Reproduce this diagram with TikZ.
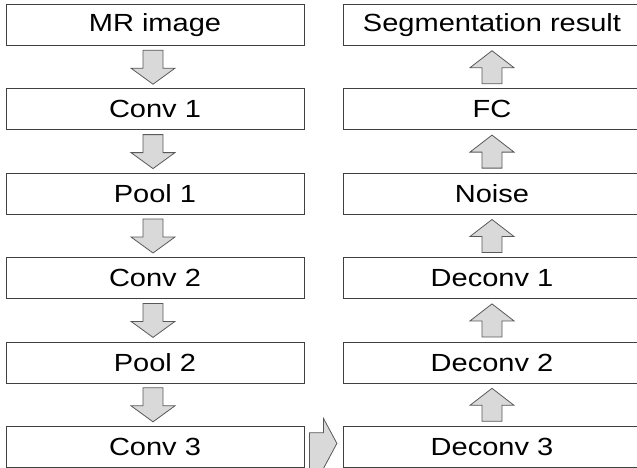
\documentclass[tikz,border=0pt]{standalone}
\usepackage{fontspec}
\setmainfont{Liberation Sans}[FakeStretch=1.17]
\usetikzlibrary{calc}

\definecolor{boxgray}{HTML}{404040}
\definecolor{arrowgray}{HTML}{595959}
\definecolor{arrowfill}{HTML}{D9D9D9}

\tikzset{
  layer/.style={draw=boxgray, line width=0.75pt, minimum width=223.5pt, minimum height=30.75pt,
    inner sep=0pt, font=\fontsize{18.6}{22}\selectfont},
  blockarrow/.style={draw=arrowgray, fill=arrowfill, line width=0.6pt, line join=miter},
}

% block arrow between two stacked layers
\newcommand{\flowdown}[2]{%
  \draw[blockarrow] ($(#1.south)!0.5!(#2.north)+(-2,0)$) ++(-10,-17) -- ++(20,0) -- ++(0,18)
    -- ++(12,0) -- ++(-22,16) -- ++(-22,-16) -- ++(12,0) -- cycle;}
\newcommand{\flowup}[2]{%
  \draw[blockarrow] ($(#2.south)!0.5!(#1.north)$) ++(0,-16.5) -- ++(22,17) -- ++(-12,0)
    -- ++(0,16) -- ++(-20,0) -- ++(0,-16) -- ++(-12,0) -- cycle;}

\begin{document}
\begin{tikzpicture}[x=0.75pt, y=-0.75pt]

\useasboundingbox (0,0) rectangle (637,468);

% Encoder
\foreach \name/\label [count=\i from 0] in {mr/MR image, conv1/Conv 1, pool1/Pool 1, conv2/Conv 2, pool2/Pool 2, conv3/Conv 3}
  \node[layer] (\name) at (155, 25+84.4*\i) {\label};

% Decoder
\foreach \name/\label [count=\i from 0] in {seg/Segmentation result, fc/FC, noise/Noise, deconv1/Deconv 1, deconv2/Deconv 2, deconv3/Deconv 3}
  \node[layer] (\name) at (492, 25+84.4*\i) {\label};

% Arrows
\foreach \a/\b in {mr/conv1, conv1/pool1, pool1/conv2, conv2/pool2, pool2/conv3}
  \flowdown{\a}{\b};
\foreach \a/\b in {deconv3/deconv2, deconv2/deconv1, deconv1/noise, noise/fc, fc/seg}
  \flowup{\a}{\b};

\draw[blockarrow] ($(conv3.east)+(5,-14.3)$) -- ++(14,0) -- ++(0,-14.3) -- ++(13.4,25)
  -- ++(-13.4,25) -- ++(0,5) -- ++(-14,0) -- cycle;

\end{tikzpicture}
\end{document}
